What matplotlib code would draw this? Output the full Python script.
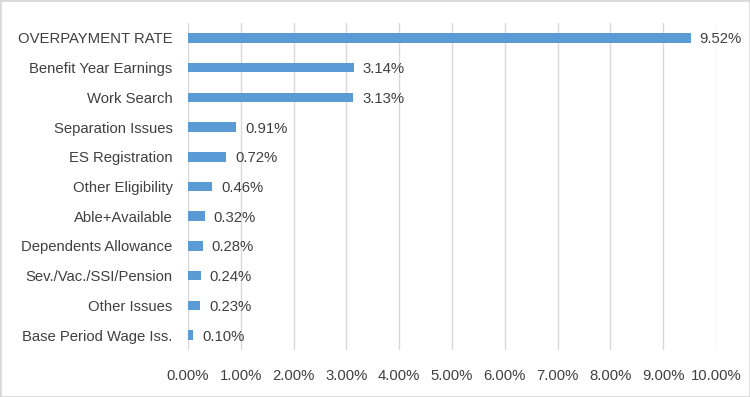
import matplotlib
matplotlib.use("Agg")
import matplotlib.pyplot as plt
from matplotlib.ticker import FuncFormatter, MultipleLocator

CATEGORIES = [
    "OVERPAYMENT RATE",
    "Benefit Year Earnings",
    "Work Search",
    "Separation Issues",
    "ES Registration",
    "Other Eligibility",
    "Able+Available",
    "Dependents Allowance",
    "Sev./Vac./SSI/Pension",
    "Other Issues",
    "Base Period Wage Iss.",
]
RATES = [9.52, 3.14, 3.13, 0.91, 0.72, 0.46, 0.32, 0.28, 0.24, 0.23, 0.10]

BAR_COLOR = "#5B9BD5"
TEXT_COLOR = "#404040"
GRID_COLOR = "#D9D9D9"

plt.rcParams["font.family"] = ["Liberation Sans", "DejaVu Sans"]

fig = plt.figure(figsize=(7.5, 3.97), dpi=100)
ax = fig.add_axes([188 / 750, 1 - 350 / 397, (716 - 188) / 750, (350 - 23) / 397])

ypos = list(range(len(CATEGORIES)))
ax.barh(ypos, RATES, height=0.32, color=BAR_COLOR, zorder=3)
ax.set_ylim(len(CATEGORIES) - 0.5, -0.5)
ax.set_xlim(0, 10)
ax.set_yticks(ypos)
ax.set_yticklabels(CATEGORIES, fontsize=10.7, color=TEXT_COLOR)

for y, v in zip(ypos, RATES):
    ax.text(v + 0.17, y + 0.05, f"{v:.2f}%", va="center", ha="left",
            fontsize=10.7, color=TEXT_COLOR)

ax.xaxis.set_major_locator(MultipleLocator(1))
ax.xaxis.set_major_formatter(FuncFormatter(lambda x, _: f"{x:.2f}%"))
ax.tick_params(axis="x", labelsize=10.7, colors=TEXT_COLOR, length=0, pad=14)
ax.tick_params(axis="y", length=0, pad=11)
ax.grid(axis="x", color=GRID_COLOR, linewidth=1, zorder=0)
for s in ax.spines.values():
    s.set_visible(False)

# light frame around the whole chart
fig.patches.append(plt.Rectangle((0, 0), 1, 1, transform=fig.transFigure,
                                 fill=False, edgecolor=GRID_COLOR, linewidth=2))

fig.savefig("out.png", dpi=100)
